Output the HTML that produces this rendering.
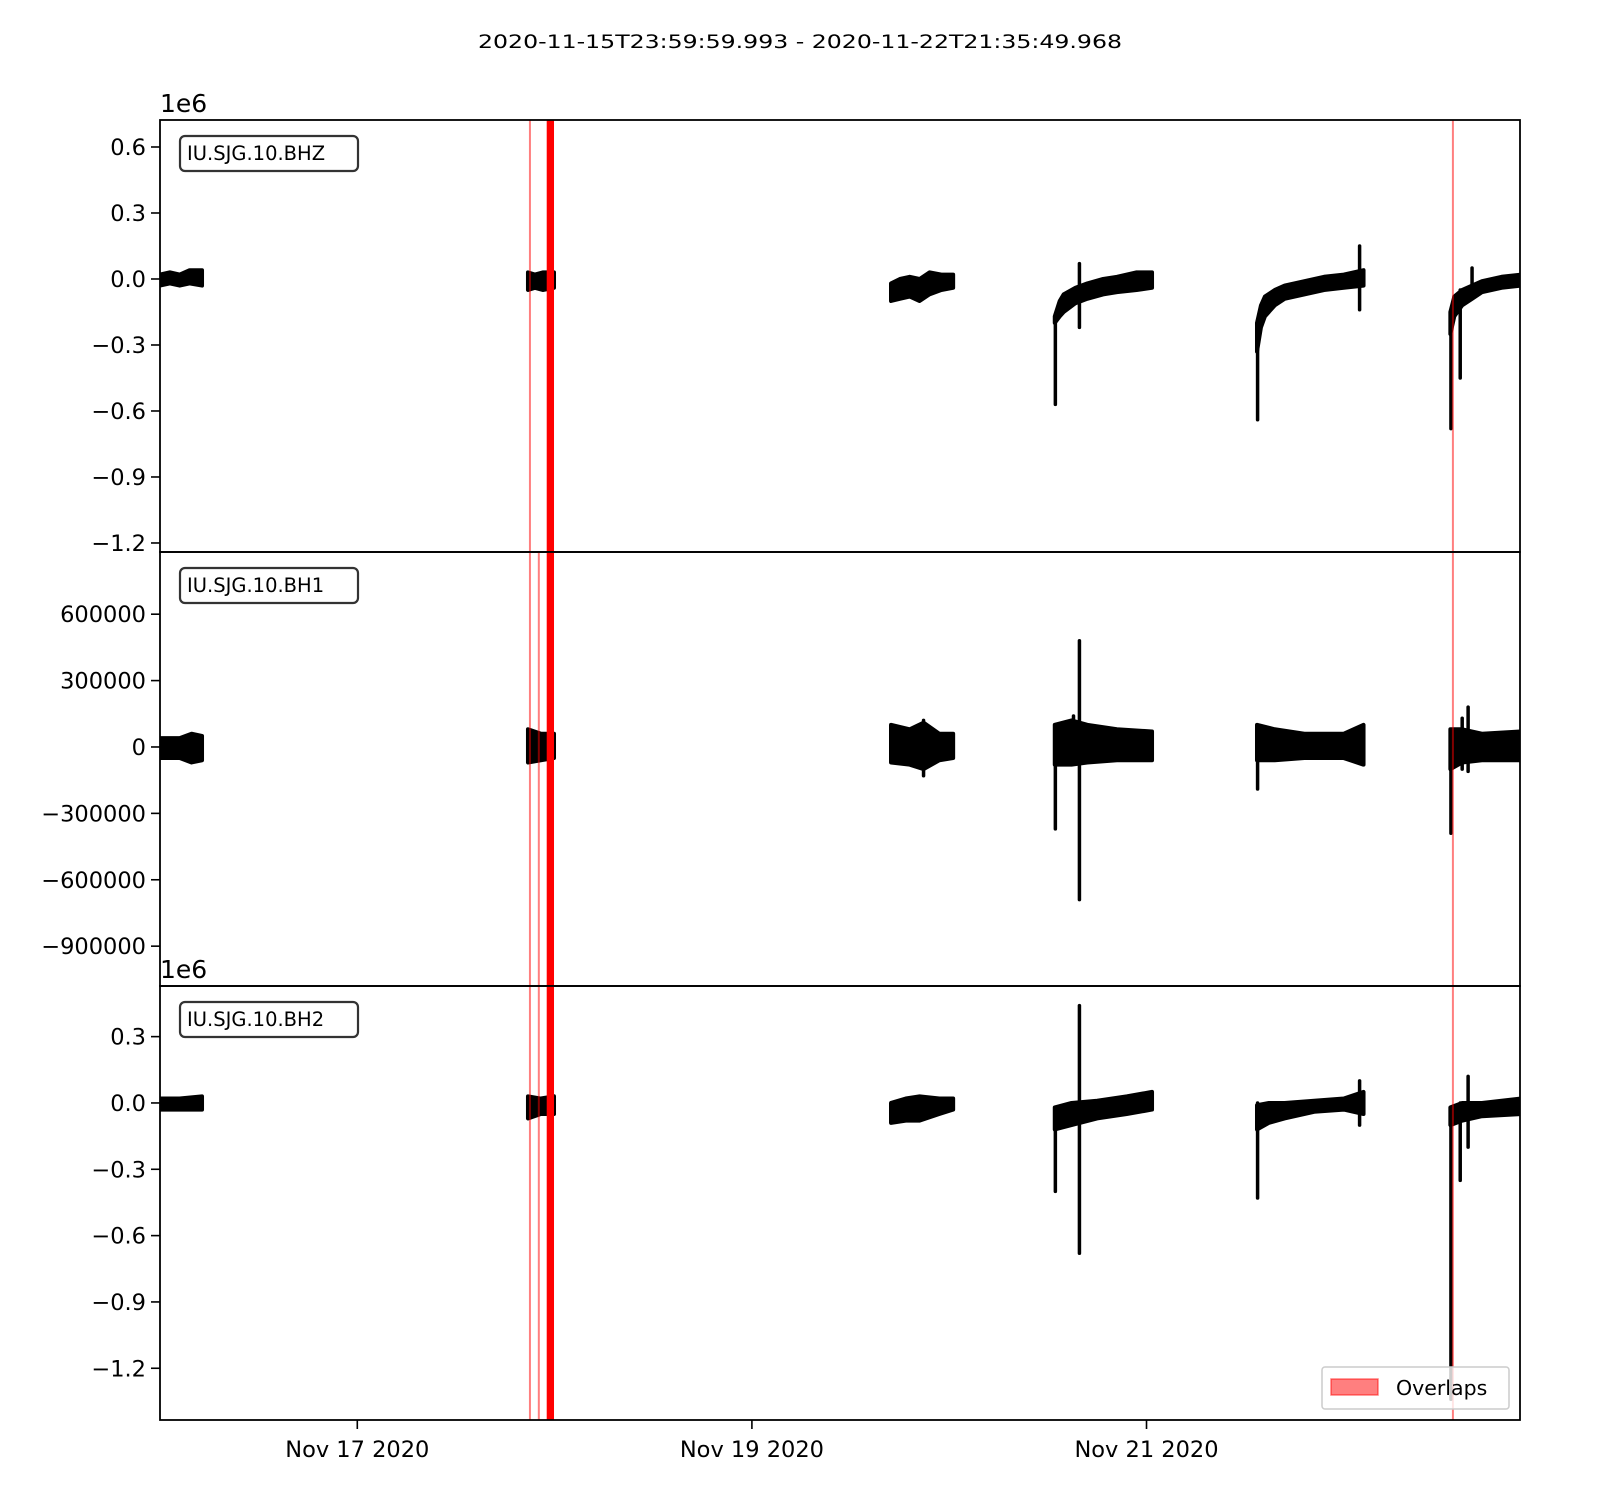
<!DOCTYPE html>
<html><head><meta charset="utf-8"><style>
body{margin:0;background:#fff;font-family:"Liberation Sans","DejaVu Sans",sans-serif}
svg text{font-family:"DejaVu Sans","Liberation Sans",sans-serif}
</style></head><body>
<svg id="c" width="1600" height="1500" xmlns="http://www.w3.org/2000/svg">
<text x="800" y="48" text-anchor="middle" font-size="19" textLength="644" lengthAdjust="spacingAndGlyphs">2020-11-15T23:59:59.993  -  2020-11-22T21:35:49.968</text>
</svg>
<script>
const channels = ["IU.SJG.10.BHZ","IU.SJG.10.BH1","IU.SJG.10.BH2"];
const xTickDays = [1,3,5];
const xTickLabels = ["Nov 17 2020","Nov 19 2020","Nov 21 2020"];
const yTicks1 = [0.6,0.3,0.0,-0.3,-0.6,-0.9,-1.2];
const yTickLabels1 = ["0.6","0.3","0.0","\u22120.3","\u22120.6","\u22120.9","\u22121.2"];
const yTicks2 = [600000,300000,0,-300000,-600000,-900000];
const yTickLabels2 = ["600000","300000","0","\u2212300000","\u2212600000","\u2212900000"];
const yTicks3 = [0.3,0.0,-0.3,-0.6,-0.9,-1.2];
const yTickLabels3 = ["0.3","0.0","\u22120.3","\u22120.6","\u22120.9","\u22121.2"];
// envelopes [day, upper, lower]
const env1 = [
 [[0,0.02,-0.03],[0.05,0.03,-0.02],[0.1,0.02,-0.03],[0.15,0.04,-0.02],[0.213,0.04,-0.03]],
 [[1.865,0.03,-0.05],[1.9,0.02,-0.04],[1.94,0.03,-0.05],[1.997,0.03,-0.04]],
 [[3.705,-0.02,-0.1],[3.75,0.0,-0.09],[3.8,0.01,-0.08],[3.85,0.0,-0.1],[3.9,0.03,-0.07],[3.96,0.02,-0.05],[4.02,0.02,-0.04]],
 [[4.535,-0.17,-0.2],[4.56,-0.1,-0.17],[4.58,-0.07,-0.15],[4.64,-0.04,-0.11],[4.7,-0.02,-0.09],[4.78,0.0,-0.07],[4.85,0.01,-0.06],[4.95,0.03,-0.05],[5.028,0.03,-0.04]],
 [[5.56,-0.2,-0.33],[5.58,-0.12,-0.22],[5.6,-0.08,-0.17],[5.65,-0.05,-0.12],[5.7,-0.03,-0.09],[5.8,-0.01,-0.07],[5.9,0.01,-0.05],[6.0,0.02,-0.04],[6.1,0.04,-0.03]],
 [[6.54,-0.15,-0.25],[6.56,-0.08,-0.17],[6.6,-0.05,-0.12],[6.65,-0.03,-0.09],[6.7,-0.01,-0.06],[6.8,0.01,-0.04],[6.9,0.02,-0.03]]
];
const spikes1 = [[4.538,-0.17,-0.57],[4.66,0.07,-0.22],[5.563,-0.2,-0.64],[6.08,0.15,-0.14],[6.543,-0.15,-0.68],[6.59,-0.05,-0.45],[6.65,0.05,-0.06]];
const env2 = [
 [[0,40000,-50000],[0.1,40000,-50000],[0.16,60000,-70000],[0.213,50000,-60000]],
 [[1.865,80000,-70000],[1.93,60000,-60000],[1.997,60000,-50000]],
 [[3.705,100000,-70000],[3.8,80000,-80000],[3.87,110000,-100000],[3.95,60000,-60000],[4.02,60000,-50000]],
 [[4.535,100000,-80000],[4.62,120000,-80000],[4.7,100000,-70000],[4.85,80000,-60000],[5.028,70000,-60000]],
 [[5.56,100000,-60000],[5.65,80000,-60000],[5.8,60000,-50000],[6.0,60000,-50000],[6.1,100000,-80000]],
 [[6.54,80000,-100000],[6.6,80000,-70000],[6.7,60000,-60000],[6.9,70000,-60000]]
];
const spikes2 = [[4.538,100000,-370000],[4.66,480000,-690000],[4.63,140000,-70000],[3.87,120000,-130000],[5.563,60000,-190000],[6.543,80000,-390000],[6.63,180000,-110000],[6.6,130000,-100000]];
const env3 = [
 [[0,0.02,-0.03],[0.1,0.02,-0.03],[0.213,0.03,-0.03]],
 [[1.865,0.03,-0.07],[1.93,0.02,-0.05],[1.997,0.03,-0.05]],
 [[3.705,0.0,-0.09],[3.78,0.02,-0.08],[3.85,0.03,-0.08],[3.95,0.02,-0.05],[4.02,0.02,-0.03]],
 [[4.535,-0.02,-0.12],[4.62,0.0,-0.1],[4.75,0.01,-0.07],[4.9,0.03,-0.05],[5.028,0.05,-0.03]],
 [[5.56,-0.01,-0.12],[5.62,0.0,-0.09],[5.7,0.0,-0.07],[5.85,0.01,-0.04],[6.0,0.02,-0.03],[6.1,0.05,-0.05]],
 [[6.54,-0.02,-0.1],[6.6,0.0,-0.08],[6.7,0.0,-0.06],[6.9,0.02,-0.05]]
];
const spikes3 = [[4.538,-0.02,-0.4],[4.66,0.44,-0.68],[5.563,0.0,-0.43],[6.08,0.1,-0.1],[6.543,-0.02,-1.34],[6.59,0.0,-0.35],[6.63,0.12,-0.2]];
const overlapThin1 = [1.875,6.553];
const overlapThin23 = [1.875,1.92,6.553];
const overlapThick = [1.96,1.997];

const svg=document.getElementById('c');
const NS="http://www.w3.org/2000/svg";
const L=160,R=1520,D0=0,D1=6.893;
function X(d){return L+(d-D0)/(D1-D0)*(R-L);}
function mk(tag,attrs,parent){const e=document.createElementNS(NS,tag);for(const k in attrs)e.setAttribute(k,attrs[k]);(parent||svg).appendChild(e);return e;}
const panels=[
 {top:120,bot:552,ymax:0.7227,ymin:-1.241,env:env1,sp:spikes1,ticks:yTicks1,labs:yTickLabels1,thin:overlapThin1,exp:true},
 {top:552,bot:986,ymax:881000,ymin:-1080000,env:env2,sp:spikes2,ticks:yTicks2,labs:yTickLabels2,thin:overlapThin23,exp:false},
 {top:986,bot:1420,ymax:0.529,ymin:-1.434,env:env3,sp:spikes3,ticks:yTicks3,labs:yTickLabels3,thin:overlapThin23,exp:true}
];
panels.forEach((p,i)=>{
 const Y=v=>p.top+(p.ymax-v)/(p.ymax-p.ymin)*(p.bot-p.top);
 const g=mk('g',{});
 
 
 const cp=mk('clipPath',{id:'cp'+i},g);mk('rect',{x:L,y:p.top,width:R-L,height:p.bot-p.top},cp);
 const pg=mk('g',{'clip-path':'url(#cp'+i+')'},g);
 p.env.forEach((seg,j)=>{
  let pts=seg.map(q=>X(q[0])+','+Y(q[1]));
  pts=pts.concat(seg.slice().reverse().map(q=>X(q[0])+','+Y(q[2])));
  const e=mk('polygon',{points:pts.join(' '),fill:'#000',stroke:'#000','stroke-width':4,'stroke-linejoin':'round'},pg);
  
  
 });
 p.sp.forEach(s=>{
  const e=mk('line',{x1:X(s[0]),x2:X(s[0]),y1:Y(s[1]),y2:Y(s[2]),stroke:'#000','stroke-width':3.5,'stroke-linecap':'round'},pg);
  
  
 });
 p.thin.forEach(t=>{
  const e=mk('rect',{x:X(t)-1,y:p.top,width:2,height:p.bot-p.top,fill:'rgba(255,0,0,0.5)'},pg);
  
  
 });
 const th=mk('rect',{x:X(overlapThick[0]),y:p.top,width:X(overlapThick[1])-X(overlapThick[0]),height:p.bot-p.top,fill:'#ff0000'},pg);
 
 
 mk('rect',{x:L,y:p.top,width:R-L,height:p.bot-p.top,fill:'none',stroke:'#000','stroke-width':1.8},g);
 p.ticks.forEach((v,k)=>{
  const y=Y(v);
  mk('line',{x1:L-9,x2:L,y1:y,y2:y,stroke:'#000','stroke-width':1.6},g);
  const t=mk('text',{x:L-14,y:y+8,'text-anchor':'end','font-size':22.5},g);
  t.textContent=p.labs[k];
  
  
 });
 if(p.exp){const t=mk('text',{x:L,y:p.top-8,'font-size':25},g);t.textContent='1e6';
  
  }
 const bx=mk('rect',{x:180,y:p.top+16,width:178,height:35,rx:5,fill:'#fff',stroke:'#333','stroke-width':2.2},g);
 
 
 const lt=mk('text',{x:187,y:p.top+40,'font-size':19.5},g);lt.textContent=channels[i];
 
 
});
xTickDays.forEach((d,k)=>{
 mk('line',{x1:X(d),x2:X(d),y1:1420,y2:1429,stroke:'#000','stroke-width':1.6});
 const t=mk('text',{x:X(d),y:1457,'text-anchor':'middle','font-size':22.5});t.textContent=xTickLabels[k];
 
 
});
const lg=mk('g',{});


mk('rect',{x:1322,y:1367,width:187,height:42,rx:3,fill:'rgba(255,255,255,0.8)',stroke:'#ccc','stroke-width':1.5},lg);
mk('rect',{x:1331,y:1379,width:47,height:16,fill:'rgba(255,0,0,0.5)',stroke:'rgba(255,0,0,0.5)','stroke-width':1.5},lg);
const ltx=mk('text',{x:1396,y:1395,'font-size':20.5},lg);ltx.textContent='Overlaps';


</script>
</body></html>
